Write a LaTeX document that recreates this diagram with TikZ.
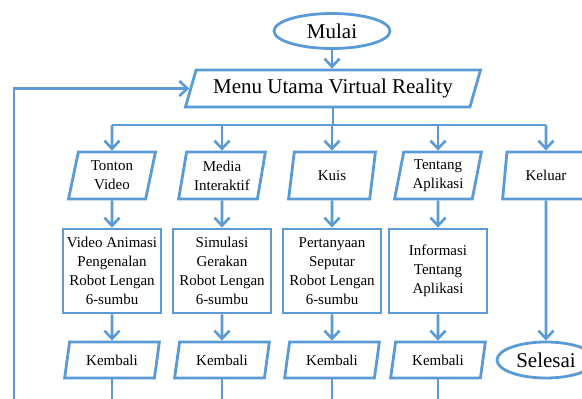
\documentclass[tikz,border=0pt]{standalone}
\usepackage{fontspec}
\setmainfont{Liberation Serif}
\usetikzlibrary{shapes.geometric,arrows.meta}
\definecolor{fblue}{HTML}{5B9BD5}
\begin{document}
\begin{tikzpicture}[x=1pt,y=-1pt,
  base/.style={draw=fblue, fill=white, line width=2.8pt, align=center, inner sep=0pt, text=black},
  big/.style={font=\fontsize{21}{25}\selectfont},
  small/.style={font=\fontsize{15}{19}\selectfont},
  term/.style={base, ellipse, big},
  menubox/.style={base, big, trapezium, trapezium left angle=64, trapezium right angle=116, trapezium stretches=true, minimum width=296pt, minimum height=37pt},
  choice/.style={base, small, trapezium, trapezium left angle=78, trapezium right angle=102, trapezium stretches=true, minimum width=87pt, minimum height=47pt},
  backbox/.style={base, small, trapezium, trapezium left angle=74, trapezium right angle=106, trapezium stretches=true, minimum width=95pt, minimum height=36pt},
  proc/.style={base, small, rectangle, minimum width=98pt, minimum height=84pt},
  ln/.style={draw=fblue, line width=2.8pt},
  arr/.style={ln, -{Straight Barb[length=8pt,width=15pt,line width=2.6pt]}},
]
\useasboundingbox (0,0) rectangle (582,399);
\clip (0,0) rectangle (582,399);

% nodes
\node[term, minimum width=116pt, minimum height=35pt] (mulai) at (332,31) {Mulai};
\node[menubox] (menu) at (333,88.5) {Menu Utama Virtual Reality};

\node[choice] (tv) at (112,175.5) {Tonton\\Video};
\node[choice] (mi) at (222,175.5) {Media\\Interaktif};
\node[choice] (ku) at (332,175.5) {Kuis};
\node[choice] (ta) at (438,175.5) {Tentang\\Aplikasi};
\node[choice] (ke) at (546,175.5) {Keluar};

\node[proc] (va) at (112,271) {Video Animasi\\Pengenalan\\Robot Lengan\\6-sumbu};
\node[proc] (sg) at (222,271) {Simulasi\\Gerakan\\Robot Lengan\\6-sumbu};
\node[proc] (ps) at (332,271) {Pertanyaan\\Seputar\\Robot Lengan\\6-sumbu};
\node[proc] (ia) at (438,271) {Informasi\\Tentang\\Aplikasi};

\node[backbox] (k1) at (112,360) {Kembali};
\node[backbox] (k2) at (222,360) {Kembali};
\node[backbox] (k3) at (332,360) {Kembali};
\node[backbox] (k4) at (438,360) {Kembali};
\node[term, minimum width=98pt, minimum height=36pt] (sel) at (546,360) {Selesai};

% helper coordinates
\coordinate (bL) at (112,125);
\coordinate (bR) at (546,125);
\coordinate (bot) at (0,410);
\coordinate (loop) at (14,410);

% connectors
\draw[arr] (mulai.south) -- (menu.north -| mulai.south);
\draw[ln] (menu.south) -- (menu.south |- bL);
\draw[ln] (bL) -- (bR);
\draw[arr] (bL) -- (tv.north);
\draw[arr] (mi.north |- bL) -- (mi.north);
\draw[arr] (ku.north |- bL) -- (ku.north);
\draw[arr] (ta.north |- bL) -- (ta.north);
\draw[arr] (bR) -- (ke.north);

\draw[arr] (tv.south) -- (va.north);
\draw[arr] (mi.south) -- (sg.north);
\draw[arr] (ku.south) -- (ps.north);
\draw[arr] (ta.south) -- (ia.north);

\draw[arr] (va.south) -- (k1.north);
\draw[arr] (sg.south) -- (k2.north);
\draw[arr] (ps.south) -- (k3.north);
\draw[arr] (ia.south) -- (k4.north);

\draw[arr] (ke.south) -- (sel.north);

\draw[ln] (k1.south) -- (k1.south |- bot);
\draw[ln] (k2.south) -- (k2.south |- bot);
\draw[ln] (k3.south) -- (k3.south |- bot);
\draw[ln] (k4.south) -- (k4.south |- bot);

\draw[arr] (loop) |- (menu.west);
\end{tikzpicture}
\end{document}
